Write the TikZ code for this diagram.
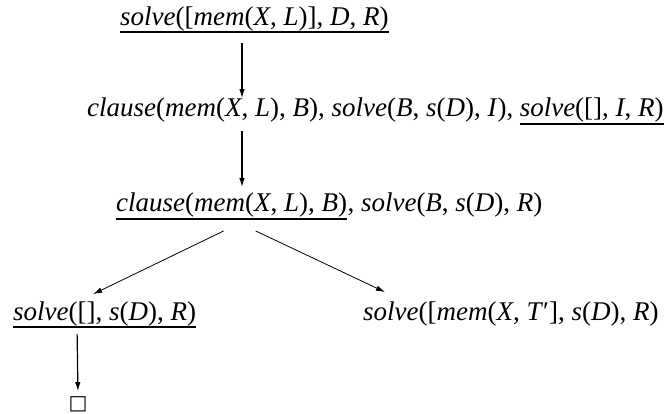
\documentclass[tikz,border=0pt]{standalone}
\usepackage{fontspec}
\setmainfont{Liberation Serif}
\newfontfamily\symfont{DejaVu Sans}
\usetikzlibrary{arrows.meta}
\newcommand{\iv}[1]{\textit{#1}}
\begin{document}
\begin{tikzpicture}[x=1pt,y=-1pt,
  t/.style={inner sep=0pt, anchor=base west, font=\fontsize{27}{32}\selectfont},
  ul/.style={line width=1.6pt},
  arr/.style={-{Latex[length=9pt,width=5.5pt]}, line width=1.2pt},
  darr/.style={-{Latex[length=9pt,width=5.5pt]}, line width=0.8pt}]
\useasboundingbox (0,0) rectangle (664,414);
\node[t] (n1) at (120,26) {\iv{solve}([\iv{mem}(\iv{X}, \iv{L})], \iv{D}, \iv{R})};
\node[t] (n2a) at (87,117) {\iv{clause}(\iv{mem}(\iv{X}, \iv{L}), \iv{B}), \iv{solve}(\iv{B}, \iv{s}(\iv{D}), \iv{I}),};
\node[t] (n2b) at ([xshift=6pt]n2a.base east) {\iv{solve}([], \iv{I}, \iv{R})};
\node[t] (n3a) at (116,212) {\iv{clause}(\iv{mem}(\iv{X}, \iv{L}), \iv{B})};
\node[t] (n3b) at (n3a.base east) {, \iv{solve}(\iv{B}, \iv{s}(\iv{D}), \iv{R})};
\node[t] (n4) at (13,320) {\iv{solve}([], \iv{s}(\iv{D}), \iv{R})};
\node[t] (n5) at (363,320) {\iv{solve}([\iv{mem}(\iv{X}, \iv{T}′], \iv{s}(\iv{D}), \iv{R})};
\node[inner sep=0pt, font=\symfont\fontsize{20}{20}\selectfont] (n6) at (78,404) {□};
% underlines
\draw[ul] ([yshift=-6pt]n1.base west) -- ([yshift=-6pt]n1.base east);
\draw[ul] ([yshift=-7pt]n2b.base west) -- ([yshift=-7pt]n2b.base east);
\draw[ul] ([yshift=-7pt]n3a.base west) -- ([yshift=-7pt]n3a.base east);
\draw[ul] ([yshift=-7pt]n4.base west) -- ([yshift=-7pt]n4.base east);
% connectors
\coordinate (c1) at (242,0);
\coordinate (c4) at (77,0);
\draw[arr, shorten <=11pt] (n1.south -| c1) -- (n2a.north -| c1);
\draw[arr, shorten <=8pt, shorten >=6pt] (n2a.south -| c1) -- (n3a.north -| c1);
\draw[darr] ([xshift=-8pt,yshift=-13pt]n3a.south) -- ([xshift=-11.5pt,yshift=7pt]n4.north);
\draw[darr] ([xshift=24pt,yshift=-13pt]n3a.south) -- ([xshift=22pt,yshift=9pt]n5.north west);
\draw[arr, shorten <=8pt, shorten >=5pt] (n4.south -| c4) -- (n6.north);
\end{tikzpicture}
\end{document}
